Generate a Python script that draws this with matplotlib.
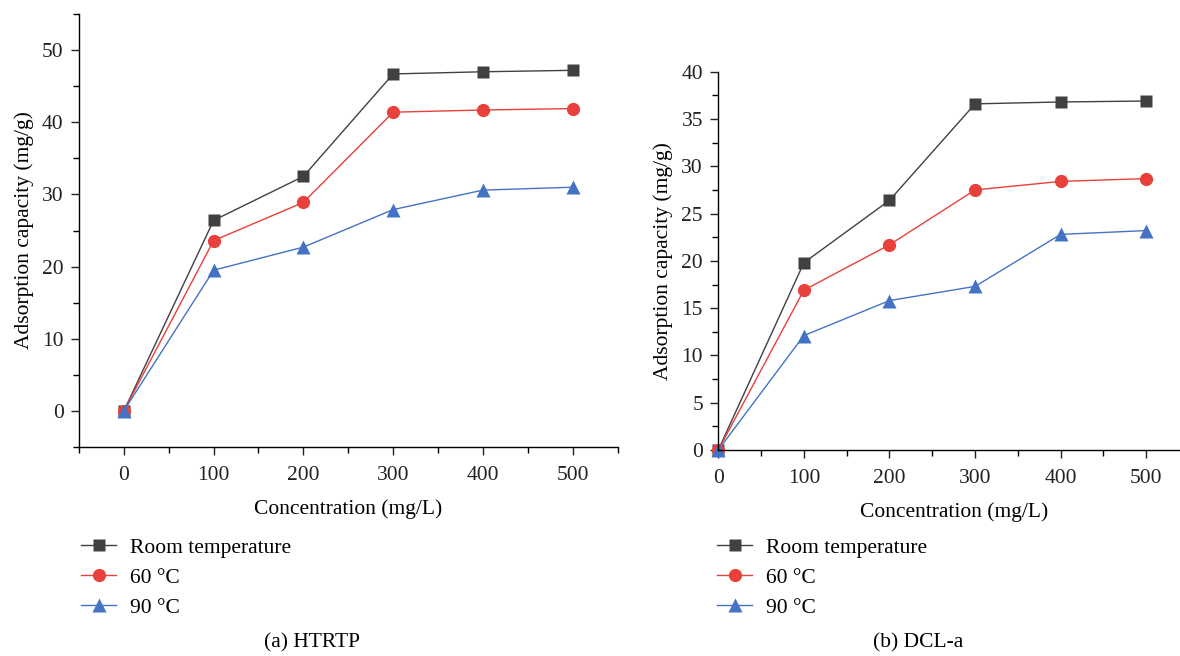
import matplotlib
matplotlib.use("Agg")
import matplotlib.pyplot as plt
from matplotlib.ticker import MultipleLocator

plt.rcParams["font.family"] = ["Liberation Serif", "DejaVu Serif"]

conc = [0, 100, 200, 300, 400, 500]
series_names = ["Room temperature", "60 °C", "90 °C"]

# (a) HTRTP
htrtp_room = [0, 26.4, 32.5, 46.7, 47.0, 47.2]
htrtp_60 = [0, 23.6, 28.9, 41.4, 41.7, 41.9]
htrtp_90 = [0, 19.5, 22.7, 27.9, 30.6, 31.0]

# (b) DCL-a
dcl_room = [0, 19.8, 26.4, 36.6, 36.8, 36.9]
dcl_60 = [0, 16.9, 21.7, 27.5, 28.4, 28.7]
dcl_90 = [0, 12.1, 15.8, 17.3, 22.8, 23.2]

styles = [
    dict(color="#404040", marker="s", markersize=8),
    dict(color="#e8403a", marker="o", markersize=9.5),
    dict(color="#4472c4", marker="^", markersize=9.5),
]

fig = plt.figure(figsize=(11.8, 6.56), dpi=100)
ax1 = fig.add_axes([0.0669, 0.3186, 0.4565, 0.660])
ax2 = fig.add_axes([0.6087, 0.314, 0.399, 0.5767])


def draw(ax, data, ylim, major, minor, xlim, caption, cap_x, leg_x):
    handles = []
    for vals, name, st in zip(data, series_names, styles):
        h, = ax.plot(conc, vals, linewidth=1.0, label=name,
                     markeredgecolor="none", clip_on=False, **st)
        handles.append(h)
    ax.set_xlim(*xlim)
    ax.set_ylim(*ylim)
    ax.xaxis.set_major_locator(MultipleLocator(100))
    ax.xaxis.set_minor_locator(MultipleLocator(50))
    ax.yaxis.set_major_locator(MultipleLocator(major))
    ax.yaxis.set_minor_locator(MultipleLocator(minor))
    for side in ("top", "right"):
        ax.spines[side].set_visible(False)
    for side in ("left", "bottom"):
        ax.spines[side].set_linewidth(1.0)
    ax.tick_params(which="major", direction="out", length=6, width=1.0,
                   labelsize=15.5, colors="#222222", pad=5)
    ax.tick_params(axis="x", which="major", pad=8)
    ax.tick_params(which="minor", direction="out", length=4, width=1.0)
    ax.set_xlabel("Concentration (mg/L)", fontsize=15.5, labelpad=10)
    ax.set_ylabel("Adsorption capacity (mg/g)", fontsize=15.5, labelpad=6)
    fig.legend(handles=handles, loc="upper left",
               bbox_to_anchor=(leg_x, 0.18), frameon=False,
               fontsize=15.5, handlelength=1.6, labelspacing=0.45,
               handletextpad=0.65, borderaxespad=0, borderpad=0)
    fig.text(cap_x, 0.006, caption, ha="center", va="bottom", fontsize=15.5)


draw(ax1, [htrtp_room, htrtp_60, htrtp_90], (-5, 55), 10, 5, (-50, 550),
     "(a) HTRTP", 0.264, 0.069)
draw(ax2, [dcl_room, dcl_60, dcl_90], (0, 40), 5, 2.5, (0, 550),
     "(b) DCL-a", 0.778, 0.608)

fig.savefig("out.png", dpi=100)
